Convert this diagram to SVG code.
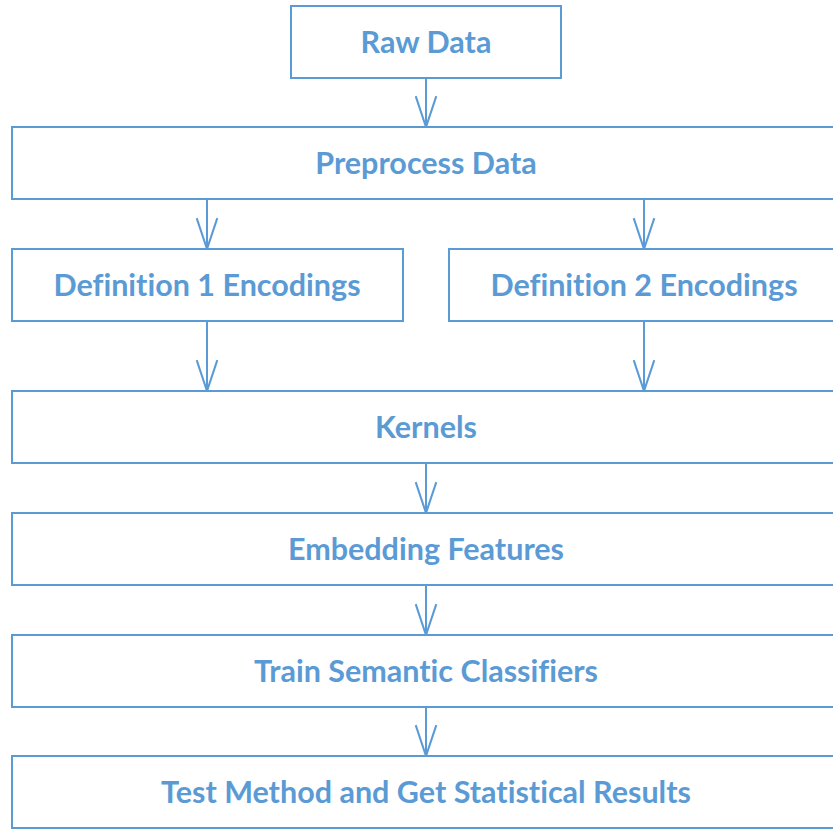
<svg xmlns="http://www.w3.org/2000/svg" width="833" height="829" viewBox="0 0 833 829">
<style>
.box{fill:#FFFFFF;stroke:#5B9BD5;stroke-width:2}
.lbl{font-family:Lato,"Open Sans","Liberation Sans",sans-serif;font-weight:bold;font-size:30.5px;fill:#5B9BD5;text-anchor:middle;font-variant-ligatures:none}
.con{stroke:#5B9BD5;stroke-width:2;fill:none}
</style>
<defs>
<marker id="arr" markerUnits="userSpaceOnUse" markerWidth="34" markerHeight="24" refX="31" refY="11" orient="auto" viewBox="0 0 33 22">
<path d="M1,1 L31,11 L1,21" fill="none" stroke="#5B9BD5" stroke-width="2"/>
</marker>
</defs>
<rect width="833" height="829" fill="#FFFFFF"/>
<g id="connectors">
<line class="con" x1="426" y1="78" x2="426" y2="127" marker-end="url(#arr)"/>
<line class="con" x1="207" y1="199" x2="207" y2="249" marker-end="url(#arr)"/>
<line class="con" x1="644" y1="199" x2="644" y2="249" marker-end="url(#arr)"/>
<line class="con" x1="207" y1="321" x2="207" y2="391" marker-end="url(#arr)"/>
<line class="con" x1="644" y1="321" x2="644" y2="391" marker-end="url(#arr)"/>
<line class="con" x1="426" y1="463" x2="426" y2="513" marker-end="url(#arr)"/>
<line class="con" x1="426" y1="585" x2="426" y2="635" marker-end="url(#arr)"/>
<line class="con" x1="426" y1="707" x2="426" y2="756" marker-end="url(#arr)"/>
</g>
<g id="raw-data"><rect class="box" x="291" y="6" width="270" height="72"/><text class="lbl" x="426" y="53">Raw Data</text></g>
<g id="preprocess-data"><rect class="box" x="12" y="127" width="830" height="72"/><text class="lbl" x="426" y="174">Preprocess Data</text></g>
<g id="definition-1"><rect class="box" x="12" y="249" width="391" height="72"/><text class="lbl" x="207" y="296">Definition 1 Encodings</text></g>
<g id="definition-2"><rect class="box" x="449" y="249" width="393" height="72"/><text class="lbl" x="644" y="296">Definition 2 Encodings</text></g>
<g id="kernels"><rect class="box" x="12" y="391" width="830" height="72"/><text class="lbl" x="426" y="438">Kernels</text></g>
<g id="embedding-features"><rect class="box" x="12" y="513" width="830" height="72"/><text class="lbl" x="426" y="560">Embedding Features</text></g>
<g id="train-classifiers"><rect class="box" x="12" y="635" width="830" height="72"/><text class="lbl" x="426" y="682">Train Semantic Classifiers</text></g>
<g id="test-method"><rect class="box" x="12" y="756" width="830" height="72"/><text class="lbl" x="426" y="803">Test Method and Get Statistical Results</text></g>
</svg>
